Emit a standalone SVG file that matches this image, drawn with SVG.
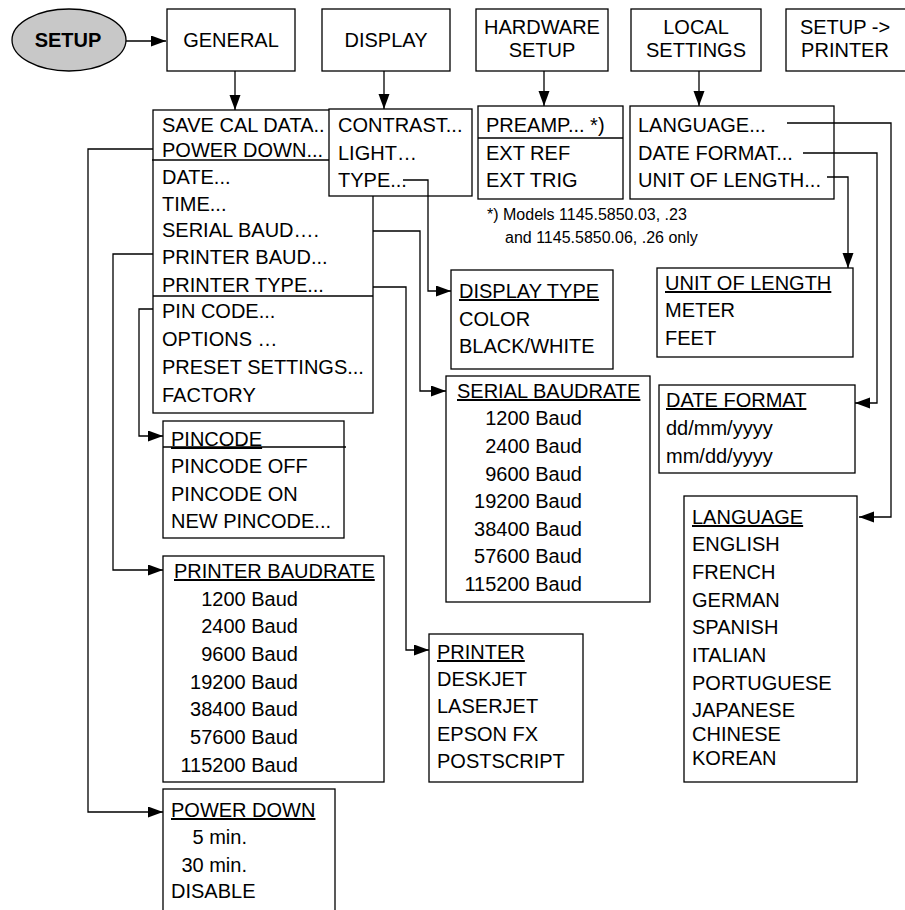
<svg xmlns="http://www.w3.org/2000/svg" width="905" height="910" viewBox="0 0 905 910">
<defs>
<marker id="ah" markerUnits="userSpaceOnUse" markerWidth="16" markerHeight="12" refX="15" refY="5.5" orient="auto">
<path d="M0,0 L15,5.5 L0,11 z" fill="#000"/>
</marker>
<style>
text{font-family:"Liberation Sans",Arial,sans-serif;font-size:20px;fill:#000}
.c{text-anchor:middle}
.e{text-anchor:end}
.u{text-decoration:underline}
.s{font-size:16px}
.b{font-weight:bold}
rect{fill:#fff;stroke:#000;stroke-width:1.3}
.sep{stroke:#000;stroke-width:1.3}
.con path{fill:none;stroke:#000;stroke-width:1.3}
</style>
</defs>
<rect x="0" y="0" width="905" height="910" style="fill:#fff;stroke:none"/>

<g id="setup">
<ellipse cx="69" cy="40" rx="57" ry="31" fill="#c8c8c8" stroke="#000" stroke-width="1.3"/>
<text class="c b" x="68" y="47">SETUP</text>
</g>
<g id="general"><rect x="167" y="9" width="128" height="62"/><text class="c" x="231" y="47">GENERAL</text></g>
<g id="display"><rect x="322" y="9" width="128" height="62"/><text class="c" x="386" y="47">DISPLAY</text></g>
<g id="hardware"><rect x="476" y="9" width="132" height="62"/><text class="c" x="542" y="34">HARDWARE</text><text class="c" x="542" y="57">SETUP</text></g>
<g id="local"><rect x="631" y="9" width="130" height="62"/><text class="c" x="696" y="34">LOCAL</text><text class="c" x="696" y="57">SETTINGS</text></g>
<g id="printer-setup"><rect x="786" y="9" width="125" height="62"/><text class="c" x="845" y="34">SETUP -&gt;</text><text class="c" x="845" y="57">PRINTER</text></g>

<g id="general-list">
<rect x="153" y="110" width="220" height="303"/>
<line class="sep" x1="152" y1="160" x2="330" y2="160"/>
<line class="sep" x1="153" y1="296" x2="373" y2="296"/>
<text x="162" y="132">SAVE CAL DATA..</text>
<text x="162" y="157">POWER DOWN...</text>
<text x="162" y="184">DATE...</text>
<text x="162" y="211">TIME...</text>
<text x="162" y="237">SERIAL BAUD….</text>
<text x="162" y="264">PRINTER BAUD...</text>
<text x="162" y="292">PRINTER TYPE...</text>
<text x="162" y="318">PIN CODE...</text>
<text x="162" y="346">OPTIONS …</text>
<text x="162" y="374">PRESET SETTINGS...</text>
<text x="162" y="402">FACTORY</text>
</g>
<g id="display-list">
<rect x="329" y="109" width="143" height="87"/>
<text x="338" y="132">CONTRAST...</text>
<text x="338" y="160">LIGHT…</text>
<text x="338" y="187">TYPE...</text>
</g>
<g id="hardware-list">
<rect x="478" y="106" width="145" height="93"/>
<line class="sep" x1="478" y1="138" x2="623" y2="138"/>
<text x="486" y="132">PREAMP...  *)</text>
<text x="486" y="160">EXT REF</text>
<text x="486" y="187">EXT TRIG</text>
</g>
<g id="footnote">
<text class="s" x="487" y="220">*) Models 1145.5850.03, .23</text>
<text class="s" x="505" y="243">and 1145.5850.06, .26 only</text>
</g>
<g id="local-list">
<rect x="630" y="106" width="204" height="93"/>
<text x="638" y="132">LANGUAGE...</text>
<text x="638" y="160">DATE FORMAT...</text>
<text x="638" y="187">UNIT OF LENGTH...</text>
</g>

<g id="display-type">
<rect x="451" y="270" width="162" height="99"/>
<text class="u" x="459" y="298">DISPLAY TYPE</text>
<text x="459" y="326">COLOR</text>
<text x="459" y="353">BLACK/WHITE</text>
</g>
<g id="unit-of-length">
<rect x="657" y="268" width="196" height="89"/>
<text class="u" x="665" y="290">UNIT OF LENGTH</text>
<text x="665" y="317">METER</text>
<text x="665" y="345">FEET</text>
</g>
<g id="serial-baudrate">
<rect x="446" y="376" width="204" height="226"/>
<text class="u" x="457" y="398">SERIAL BAUDRATE</text>
<text class="e" x="582" y="425">1200 Baud</text>
<text class="e" x="582" y="453">2400 Baud</text>
<text class="e" x="582" y="481">9600 Baud</text>
<text class="e" x="582" y="508">19200 Baud</text>
<text class="e" x="582" y="536">38400 Baud</text>
<text class="e" x="582" y="563">57600 Baud</text>
<text class="e" x="582" y="591">115200 Baud</text>
</g>
<g id="date-format">
<rect x="659" y="385" width="196" height="88"/>
<text class="u" x="666" y="407">DATE FORMAT</text>
<text x="666" y="435">dd/mm/yyyy</text>
<text x="666" y="463">mm/dd/yyyy</text>
</g>
<g id="pincode">
<rect x="163" y="421" width="181" height="117"/>
<line class="sep" x1="163" y1="447" x2="346" y2="447"/>
<text class="u" x="171" y="446">PINCODE</text>
<text x="171" y="473">PINCODE OFF</text>
<text x="171" y="501">PINCODE ON</text>
<text x="171" y="528">NEW PINCODE...</text>
</g>
<g id="language">
<rect x="684" y="496" width="173" height="286"/>
<text class="u" x="692" y="524">LANGUAGE</text>
<text x="692" y="551">ENGLISH</text>
<text x="692" y="579">FRENCH</text>
<text x="692" y="607">GERMAN</text>
<text x="692" y="634">SPANISH</text>
<text x="692" y="662">ITALIAN</text>
<text x="692" y="690">PORTUGUESE</text>
<text x="692" y="717">JAPANESE</text>
<text x="692" y="741">CHINESE</text>
<text x="692" y="765">KOREAN</text>
</g>
<g id="printer-baudrate">
<rect x="163" y="556" width="221" height="226"/>
<text class="u" x="174" y="578">PRINTER BAUDRATE</text>
<text class="e" x="298" y="606">1200 Baud</text>
<text class="e" x="298" y="633">2400 Baud</text>
<text class="e" x="298" y="661">9600 Baud</text>
<text class="e" x="298" y="689">19200 Baud</text>
<text class="e" x="298" y="716">38400 Baud</text>
<text class="e" x="298" y="744">57600 Baud</text>
<text class="e" x="298" y="772">115200 Baud</text>
</g>
<g id="printer">
<rect x="429" y="634" width="154" height="148"/>
<text class="u" x="437" y="659">PRINTER</text>
<text x="437" y="686">DESKJET</text>
<text x="437" y="713">LASERJET</text>
<text x="437" y="741">EPSON FX</text>
<text x="437" y="768">POSTSCRIPT</text>
</g>
<g id="power-down">
<rect x="163" y="789" width="172" height="130"/>
<text class="u" x="171" y="817">POWER DOWN</text>
<text class="e" x="247" y="844">5 min.</text>
<text class="e" x="247" y="872">30 min.</text>
<text x="171" y="898">DISABLE</text>
</g>

<g id="connectors" class="con">
<path d="M126,41 H166" marker-end="url(#ah)"/>
<path d="M235,71 V110" marker-end="url(#ah)"/>
<path d="M384,71 V109" marker-end="url(#ah)"/>
<path d="M544,71 V106" marker-end="url(#ah)"/>
<path d="M699,71 V106" marker-end="url(#ah)"/>
<path d="M153,149 H88 V812 H163" marker-end="url(#ah)"/>
<path d="M153,254 H113 V570 H163" marker-end="url(#ah)"/>
<path d="M153,309 H139 V436 H163" marker-end="url(#ah)"/>
<path d="M373,231 H420 V391 H446" marker-end="url(#ah)"/>
<path d="M373,287 H406 V650 H429" marker-end="url(#ah)"/>
<path d="M403,180 H428 V291 H451" marker-end="url(#ah)"/>
<path d="M787,123 H891 V517 H859" marker-end="url(#ah)"/>
<path d="M803,153 H877 V403 H855" marker-end="url(#ah)"/>
<path d="M827,177 H848 V268" marker-end="url(#ah)"/>
</g>
</svg>
